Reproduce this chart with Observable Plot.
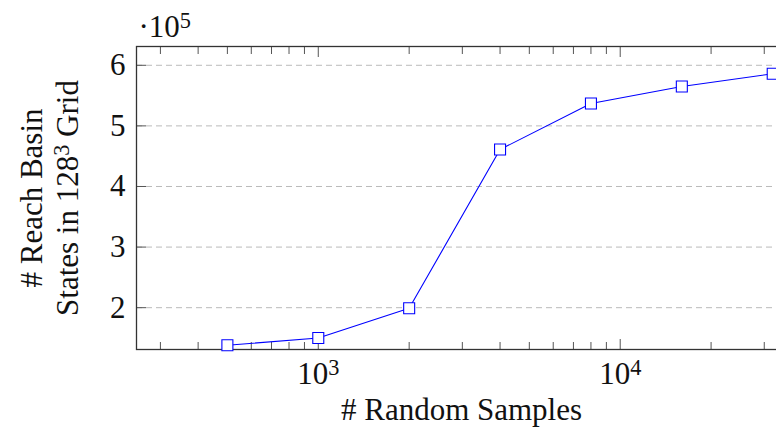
<!DOCTYPE html>
<html><head><meta charset="utf-8">
<style>html,body{margin:0;padding:0;background:#fff;overflow:hidden;width:776px;height:429px}
#chart svg{max-width:none !important}</style>
<script src="https://cdn.jsdelivr.net/npm/d3@7"></script>
<script src="https://cdn.jsdelivr.net/npm/@observablehq/plot@0.6"></script>
</head><body><div id="chart"></div>
<script>
const samples = [500, 1000, 2000, 4000, 8000, 16000, 32000];
const states = [138000, 150000, 199000, 461000, 537000, 565000, 586000];
const yTicks = [200000, 300000, 400000, 500000, 600000];
const yTickLabels = ["2", "3", "4", "5", "6"];
const xMajor = [1000, 10000, 100000];
const xLabelTicks = [1000, 10000];
const xMajorLabels = ["10³", "10⁴"];
const xMinor = [300, 400, 500, 600, 700, 800, 900, 2000, 3000, 4000, 5000, 6000, 7000, 8000, 9000,
                20000, 30000, 40000, 50000, 60000, 70000, 80000, 90000];
const xLabel = "# Random Samples";
const yLabel = "# Reach Basin\nStates in 128³ Grid";
const scaleNote = "·10⁵";

const data = samples.map((s, i) => ({samples: s, states: states[i]}));
const xLab = new Map(xLabelTicks.map((d, i) => [d, xMajorLabels[i]]));
const yLab = new Map(yTicks.map((d, i) => [d, yTickLabels[i]]));
const font = "'Liberation Serif', 'Times New Roman', serif";

const chart = Plot.plot({
  width: 960, height: 429,
  marginLeft: 136, marginRight: 6, marginTop: 46, marginBottom: 80,
  style: {fontFamily: font, fontSize: "31px", color: "#111", background: "#fff", maxWidth: "none"},
  x: {type: "log", domain: [250, 128000]},
  y: {domain: [131000, 631000]},
  marks: [
    Plot.gridY(yTicks, {stroke: "#bbb", strokeOpacity: 1, strokeDasharray: "6,4", strokeWidth: 1}),
    Plot.axisX(xMinor, {anchor: "bottom", tickSize: -7, fill: "none", label: null, stroke: "#555"}),
    Plot.axisX(xMajor, {anchor: "bottom", tickSize: -10, fill: "none", label: null, stroke: "#555"}),
    Plot.axisX(xMinor, {anchor: "top", tickSize: -7, fill: "none", label: null, stroke: "#555"}),
    Plot.axisX(xMajor, {anchor: "top", tickSize: -10, fill: "none", label: null, stroke: "#555"}),
    Plot.axisY(yTicks, {anchor: "left", tickSize: -10, fill: "none", label: null, stroke: "#555"}),
    Plot.axisX(xLabelTicks, {anchor: "bottom", tickSize: 0, tickPadding: 12, tickFormat: d => xLab.get(d), label: null}),
    Plot.axisY(yTicks, {anchor: "left", tickSize: 0, tickPadding: 11, tickFormat: d => yLab.get(d), label: null}),
    Plot.frame({stroke: "#333", strokeWidth: 1.3}),
    Plot.line(data, {x: "samples", y: "states", stroke: "#0000ff", strokeWidth: 1.1}),
    Plot.dot(data, {x: "samples", y: "states", symbol: "square", r: 6.2, stroke: "#0000ff", fill: "white", strokeWidth: 1.1}),
    Plot.text([scaleNote], {frameAnchor: "top-left", textAnchor: "start", lineAnchor: "bottom", dx: 2, dy: -10, fill: "#111"}),
    Plot.text([xLabel], {frameAnchor: "bottom-left", textAnchor: "middle", lineAnchor: "bottom", dx: 325, dy: 70, fill: "#111", letterSpacing: "0.6px"}),
    Plot.text([yLabel], {frameAnchor: "left", textAnchor: "middle", lineAnchor: "middle", rotate: -90, dx: -88, fill: "#111", lineHeight: 1.15})
  ]
});
document.getElementById("chart").appendChild(chart);

// render unicode superscript digits as raised, smaller digits
const sup = {"¹": "1", "²": "2", "³": "3", "⁴": "4", "⁵": "5"};
const re = /[¹²³⁴⁵]/;
const walker = document.createTreeWalker(chart, NodeFilter.SHOW_TEXT);
const nodes = [];
while (walker.nextNode()) if (re.test(walker.currentNode.nodeValue)) nodes.push(walker.currentNode);
const NS = "http://www.w3.org/2000/svg";
for (const node of nodes) {
  const parent = node.parentNode;
  const frag = document.createDocumentFragment();
  let buf = "";
  for (const ch of node.nodeValue) {
    if (sup[ch]) {
      if (buf) { const t = document.createElementNS(NS, "tspan"); t.textContent = buf; frag.appendChild(t); buf = ""; }
      const s = document.createElementNS(NS, "tspan");
      s.setAttribute("baseline-shift", "42%");
      s.setAttribute("font-size", "72%");
      s.textContent = sup[ch];
      frag.appendChild(s);
    } else buf += ch;
  }
  if (buf) { const t = document.createElementNS(NS, "tspan"); t.textContent = buf; frag.appendChild(t); }
  parent.replaceChild(frag, node);
}
</script>
</body></html>
